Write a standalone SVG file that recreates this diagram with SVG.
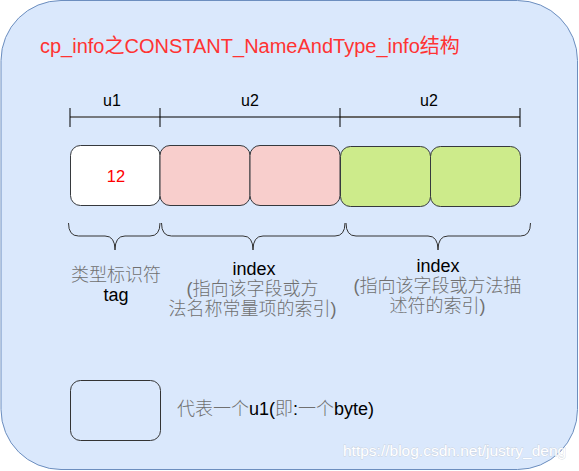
<svg xmlns="http://www.w3.org/2000/svg" width="579" height="471" viewBox="0 0 579 471">
  <style>
    text { font-family: "Liberation Sans", "Noto Sans CJK SC", sans-serif; fill: #000; }
    .cjk { fill: #707070; font-weight: 300; }
    .t18 { font-size: 18px; }
    .u { font-size: 16px; text-anchor: middle; }
    .mid { text-anchor: middle; }
    .box { stroke: #36393d; stroke-width: 1; }
    .tick { stroke: #000; stroke-width: 1; }
    .brace { fill: none; stroke: #333; stroke-width: 1; }
  </style>

  <g id="container">
    <rect x="1" y="0.5" width="576.5" height="469" rx="60" ry="60" fill="#dae8fc" stroke="#6c8ebf" stroke-width="1"/>
  </g>

  <g id="title">
    <text x="40" y="53" style="font-size:20px;fill:#ff3333">cp_info之CONSTANT_NameAndType_info结构</text>
  </g>

  <g id="connectors">
    <line x1="70" y1="117" x2="160" y2="117" stroke="#555" stroke-width="1.5"/>
    <line x1="160" y1="117" x2="340" y2="117" stroke="#000" stroke-width="1"/>
    <line x1="340" y1="117" x2="520" y2="117" stroke="#666" stroke-width="2"/>
    <line class="tick" x1="70" y1="108" x2="70" y2="127"/>
    <line class="tick" x1="160" y1="108" x2="160" y2="127"/>
    <line class="tick" x1="340" y1="108" x2="340" y2="127"/>
    <line class="tick" x1="520" y1="108" x2="520" y2="127"/>
    <path class="brace" d="M68.5 223 Q68.5 236 78.5 236 H105 Q115 236 115 250 Q115 236 125 236 H150 Q160 236 160 223"/>
    <path class="brace" d="M161.5 223 Q161.5 236 171.5 236 H243 Q253 236 253 250 Q253 236 263 236 H335 Q345 236 345 223"/>
    <path class="brace" d="M346 223 Q346 236 356 236 H428 Q438 236 438 250 Q438 236 448 236 H520.5 Q530.5 236 530.5 223"/>
  </g>

  <g id="ruler-labels">
    <text class="u" x="112" y="106">u1</text>
    <text class="u" x="250" y="106">u2</text>
    <text class="u" x="429" y="106">u2</text>
  </g>

  <g id="box-tag">
    <rect class="box" x="70.5" y="145.5" width="89.5" height="60" rx="10" ry="10" fill="#ffffff"/>
    <text x="116" y="182" style="font-size:16.5px;fill:#ff0000;text-anchor:middle">12</text>
  </g>
  <g id="box-name-1">
    <rect class="box" x="160" y="145.5" width="90" height="60" rx="10" ry="10" fill="#f8cecc"/>
  </g>
  <g id="box-name-2">
    <rect class="box" x="250" y="145.5" width="90" height="60" rx="10" ry="10" fill="#f8cecc"/>
  </g>
  <g id="box-desc-1">
    <rect class="box" x="340.5" y="146.5" width="90" height="60" rx="10" ry="10" fill="#cdeb8b"/>
  </g>
  <g id="box-desc-2">
    <rect class="box" x="430.5" y="146.5" width="90" height="60" rx="10" ry="10" fill="#cdeb8b"/>
  </g>

  <g id="label-tag">
    <text class="t18 mid" x="116" y="281"><tspan class="cjk">类型标识符</tspan></text>
    <text class="t18 mid" x="116" y="301">tag</text>
  </g>
  <g id="label-name-index">
    <text class="t18 mid" x="254" y="275">index</text>
    <text class="t18 mid cjk" x="252.5" y="295">(指向该字段或方</text>
    <text class="t18 mid cjk" x="252.5" y="315">法名称常量项的索引)</text>
  </g>
  <g id="label-desc-index">
    <text class="t18 mid" x="438" y="272">index</text>
    <text class="t18 mid cjk" x="437.5" y="292">(指向该字段或方法描</text>
    <text class="t18 mid cjk" x="437.5" y="312">述符的索引)</text>
  </g>

  <g id="legend">
    <rect x="70.5" y="380.5" width="90" height="60" rx="10" ry="10" fill="none" stroke="#333" stroke-width="1"/>
    <text x="177" y="415" style="font-size:18px"><tspan class="cjk">代表一个</tspan>u1(<tspan class="cjk">即</tspan>:<tspan class="cjk">一个</tspan>byte)</text>
  </g>

  <g id="watermark">
    <text x="343" y="456" style="font-size:15.5px;fill:#ffffff;stroke:#c4cad3;stroke-width:0.8;paint-order:stroke;stroke-opacity:0.7">https://blog.csdn.net/justry_deng</text>
  </g>
</svg>
